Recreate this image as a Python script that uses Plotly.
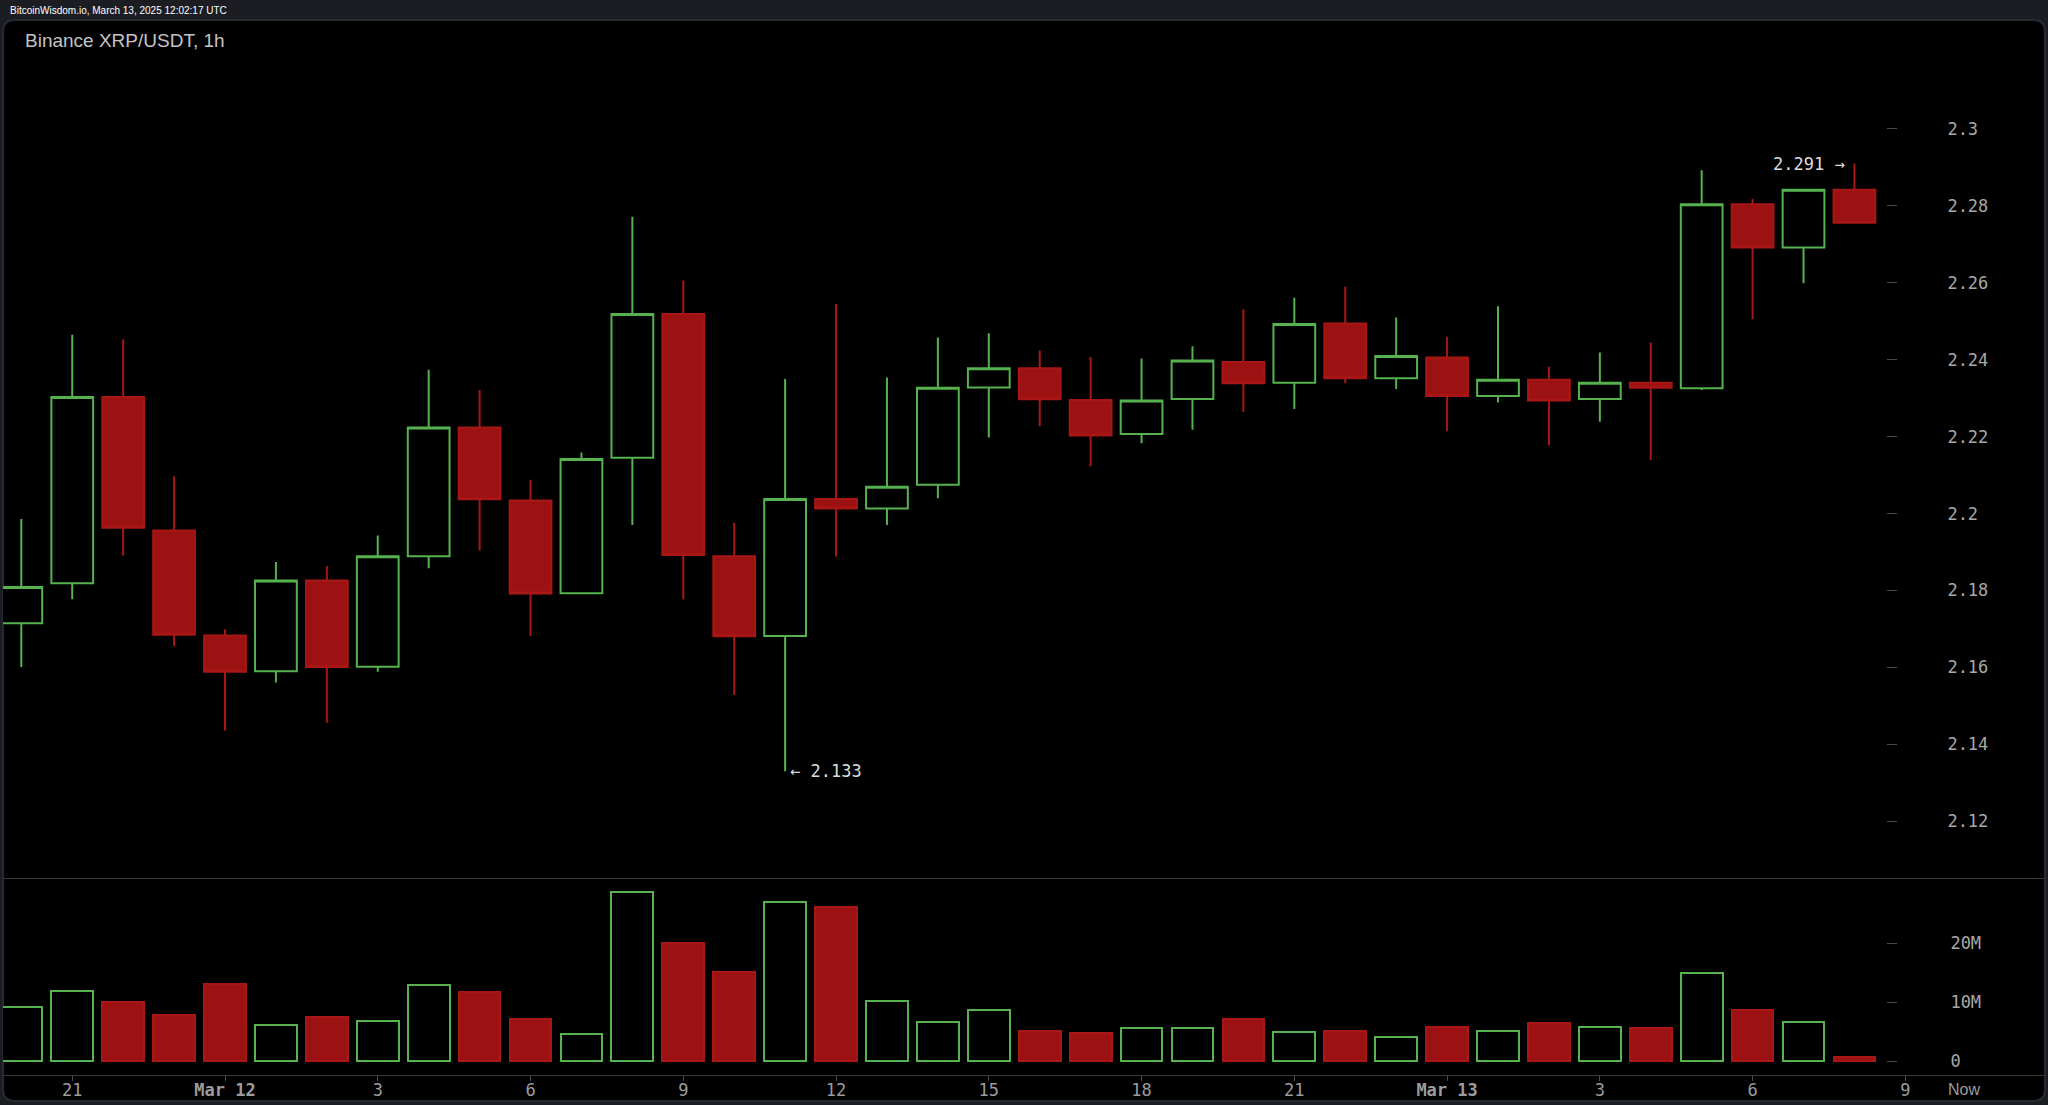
import pandas as pd
import plotly.graph_objects as go

W, H = 2048, 1105

# ---------------- data ----------------
times = pd.date_range("2025-03-11 20:00", periods=37, freq="h")
opens = [2.1715, 2.1819, 2.2303, 2.1956, 2.1683, 2.1590, 2.1826, 2.1602, 2.1889, 2.2224,
         2.2034, 2.1793, 2.2145, 2.2519, 2.1889, 2.1682, 2.2038, 2.2013, 2.2075, 2.2328,
         2.2378, 2.2295, 2.2207, 2.2298, 2.2394, 2.2340, 2.2494, 2.2352, 2.2406, 2.2306,
         2.2348, 2.2298, 2.2340, 2.2326, 2.2804, 2.2692, 2.2842]
highs = [2.1986, 2.2465, 2.2453, 2.2097, 2.1699, 2.1874, 2.1864, 2.1943, 2.2374, 2.2321,
         2.2088, 2.2159, 2.2772, 2.2606, 2.1976, 2.2350, 2.2545, 2.2354, 2.2458, 2.2469,
         2.2424, 2.2407, 2.2403, 2.2435, 2.2531, 2.2561, 2.2590, 2.2510, 2.2460, 2.2539,
         2.2382, 2.2419, 2.2445, 2.2893, 2.2818, 2.2842, 2.2910]
lows = [2.1601, 2.1777, 2.1891, 2.1655, 2.1436, 2.1561, 2.1456, 2.1589, 2.1858, 2.1904,
        2.1682, 2.1793, 2.1970, 2.1777, 2.1528, 2.1330, 2.1888, 2.1970, 2.2040, 2.2198,
        2.2227, 2.2123, 2.2183, 2.2218, 2.2264, 2.2272, 2.2339, 2.2324, 2.2214, 2.2289,
        2.2177, 2.2239, 2.2139, 2.2321, 2.2505, 2.2599, 2.2756]
closes = [2.1809, 2.2303, 2.1963, 2.1685, 2.1589, 2.1826, 2.1601, 2.1889, 2.2224, 2.2037,
          2.1792, 2.2142, 2.2519, 2.1892, 2.1681, 2.2038, 2.2013, 2.2070, 2.2327, 2.2378,
          2.2297, 2.2203, 2.2294, 2.2398, 2.2339, 2.2493, 2.2352, 2.2410, 2.2306, 2.2348,
          2.2294, 2.2340, 2.2327, 2.2804, 2.2692, 2.2842, 2.2756]
volumes_m = [9.2, 11.9, 10.0, 7.9, 13.1, 6.2, 7.4, 6.8, 13.0, 11.7,
             7.1, 4.6, 28.7, 20.0, 15.1, 27.1, 26.2, 10.2, 6.7, 8.7,
             5.1, 4.7, 5.6, 5.6, 7.1, 4.9, 5.1, 4.0, 5.8, 5.1,
             6.4, 5.8, 5.6, 14.9, 8.7, 6.7, 0.7]

x_tick_times = ["2025-03-11 21:00", "2025-03-12 00:00", "2025-03-12 03:00", "2025-03-12 06:00",
                "2025-03-12 09:00", "2025-03-12 12:00", "2025-03-12 15:00", "2025-03-12 18:00",
                "2025-03-12 21:00", "2025-03-13 00:00", "2025-03-13 03:00", "2025-03-13 06:00",
                "2025-03-13 09:00"]
x_tick_labels = ["21", "<b>Mar 12</b>", "3", "6", "9", "12", "15", "18", "21",
                 "<b>Mar 13</b>", "3", "6", "9"]
price_ticks = [2.12, 2.14, 2.16, 2.18, 2.2, 2.22, 2.24, 2.26, 2.28, 2.3]
price_labels = ["2.12", "2.14", "2.16", "2.18", "2.2", "2.22", "2.24", "2.26", "2.28", "2.3"]
vol_ticks = [0, 10e6, 20e6]
vol_labels = ["0", "10M", "20M"]

# ---------------- style ----------------
GREEN = "#56b24e"
RED_FILL = "#9c1212"
RED_LINE = "#a91616"
LABEL = "#a8a8a8"
TICKC = "#4a4a4a"
MONO = "DejaVu Sans Mono"
PAGE_BG = "#1b1d23"


def fx(px):
    return px / W


def fy(py):
    return 1 - py / H


volumes = [v * 1e6 for v in volumes_m]
up = [c >= o for o, c in zip(opens, closes)]
bar_fill = ["#000000" if u else RED_FILL for u in up]
bar_line = [GREEN if u else RED_LINE for u in up]

fig = go.Figure()
fig.add_trace(go.Candlestick(
    x=times, open=opens, high=highs, low=lows, close=closes,
    xaxis="x", yaxis="y",
    increasing=dict(fillcolor="#000000", line=dict(color=GREEN, width=2)),
    decreasing=dict(fillcolor=RED_FILL, line=dict(color=RED_LINE, width=2)),
    whiskerwidth=0, showlegend=False, hoverinfo="skip",
))
fig.add_trace(go.Bar(
    x=times, y=volumes, xaxis="x2", yaxis="y2",
    width=0.82 * 3600 * 1000,
    marker=dict(color=bar_fill, line=dict(color=bar_line, width=2)),
    showlegend=False, hoverinfo="skip",
))

# x range: Mar 12 00:00 sits at 225 px, 50.92 px per hour
base = pd.Timestamp("2025-03-12 00:00")
pph = 50.92
x_left = base - pd.Timedelta(hours=(225 - 3) / pph)
x_right = base + pd.Timedelta(hours=(2045 - 225) / pph)

# price y range (2.28 at 205.9 px, 3846 px per unit)
p_bot = 2.28 - (878 - 205.9) / 3846
p_top = 2.28 + (205.9 - 20) / 3846
# volume y range (0 at 1061 px, 5.88 px per million)
v_bot = -(1075 - 1061) / 5.88 * 1e6
v_top = (1061 - 878) / 5.88 * 1e6

xdom = [fx(3), fx(2045)]
ydom_p = [fy(878), fy(20)]
ydom_v = [fy(1075), fy(878)]

axis_common = dict(showgrid=False, zeroline=False, fixedrange=True)

fig.update_layout(
    width=W, height=H,
    margin=dict(l=0, r=0, t=0, b=0),
    paper_bgcolor=PAGE_BG,
    plot_bgcolor="rgba(0,0,0,0)",
    boxgap=0.18,
    boxgroupgap=0,
    bargap=0,
    font=dict(family=MONO, color=LABEL, size=16),
    xaxis=dict(domain=xdom, anchor="y", range=[x_left, x_right], type="date",
               rangeslider=dict(visible=False), showticklabels=False, ticks="",
               showline=True, linecolor="#3a3a3a", linewidth=1, **axis_common),
    xaxis2=dict(domain=xdom, anchor="y2", matches="x", range=[x_left, x_right], type="date",
                tickmode="array", tickvals=x_tick_times, ticktext=x_tick_labels,
                ticks="outside", ticklen=5, tickcolor=TICKC, ticklabelstandoff=-5,
                tickfont=dict(family=MONO, size=17, color="#9c9c9c"),
                showline=True, linecolor="#3a3a3a", linewidth=1, **axis_common),
    yaxis=dict(domain=ydom_p, range=[p_bot, p_top], anchor="free", position=fx(1886),
               side="right", tickmode="array", tickvals=price_ticks, ticktext=price_labels,
               ticks="outside", ticklen=10, tickcolor=TICKC, ticklabelstandoff=47,
               tickfont=dict(family=MONO, size=17, color=LABEL), showline=False,
               **axis_common),
    yaxis2=dict(domain=ydom_v, range=[v_bot, v_top], anchor="free", position=fx(1886),
                side="right", tickmode="array", tickvals=vol_ticks, ticktext=vol_labels,
                ticks="outside", ticklen=10, tickcolor=TICKC, ticklabelstandoff=50,
                tickfont=dict(family=MONO, size=17, color=LABEL), showline=False,
                **axis_common),
    yaxis3=dict(domain=ydom_p, range=[p_bot, p_top], overlaying="y", anchor="free",
                position=fx(2033), side="right", tickmode="array", tickvals=price_ticks,
                ticks="outside", ticklen=10, tickcolor=TICKC, showticklabels=False,
                showline=False, **axis_common),
    yaxis4=dict(domain=ydom_v, range=[v_bot, v_top], overlaying="y2", anchor="free",
                position=fx(2033), side="right", tickmode="array", tickvals=vol_ticks,
                ticks="outside", ticklen=10, tickcolor=TICKC, showticklabels=False,
                showline=False, **axis_common),
)

# rounded black panel
r = 12
x0, x1, y0, y1 = 3, 2045, 20, 1101


def P(x, y):
    return f"{fx(x)},{fy(y)}"


path = (f"M {P(x0 + r, y0)} L {P(x1 - r, y0)} Q {P(x1, y0)} {P(x1, y0 + r)} "
        f"L {P(x1, y1 - r)} Q {P(x1, y1)} {P(x1 - r, y1)} L {P(x0 + r, y1)} "
        f"Q {P(x0, y1)} {P(x0, y1 - r)} L {P(x0, y0 + r)} Q {P(x0, y0)} {P(x0 + r, y0)} Z")
fig.add_shape(type="path", path=path, xref="paper", yref="paper",
              fillcolor="#000000", line=dict(color="#252a33", width=2), layer="below")

# texts
fig.add_annotation(text="BitcoinWisdom.io, March 13, 2025 12:02:17 UTC",
                   xref="paper", yref="paper", x=fx(8), y=fy(11), xanchor="left",
                   yanchor="middle", showarrow=False,
                   font=dict(family="Liberation Sans", size=10, color="#ffffff"))
fig.add_annotation(text="Binance XRP/USDT, 1h", xref="paper", yref="paper",
                   x=fx(23), y=fy(41), xanchor="left", yanchor="middle", showarrow=False,
                   font=dict(family="Liberation Sans", size=19, color="#c4c4c4"))
fig.add_annotation(text="2.291 →", x=times[36], y=highs[36], xref="x", yref="y",
                   xanchor="right", yanchor="middle", xshift=-7, showarrow=False,
                   font=dict(family=MONO, size=17, color="#dcdcdc"))
fig.add_annotation(text="← 2.133", x=times[15], y=lows[15], xref="x", yref="y",
                   xanchor="left", yanchor="middle", xshift=3, showarrow=False,
                   font=dict(family=MONO, size=17, color="#dcdcdc"))
fig.add_annotation(text="Now", xref="paper", yref="paper", x=fx(1964), y=fy(1089),
                   xanchor="center", yanchor="middle", showarrow=False,
                   font=dict(family="Liberation Sans", size=16, color="#9c9c9c"))

fig.write_html(
    "out.html",
    config={"displayModeBar": False},
    post_script=(
        "document.documentElement.style.margin='0';"
        "document.body.style.margin='0';"
        "document.body.style.overflow='hidden';"
        f"document.body.style.background='{PAGE_BG}';"
    ),
)
